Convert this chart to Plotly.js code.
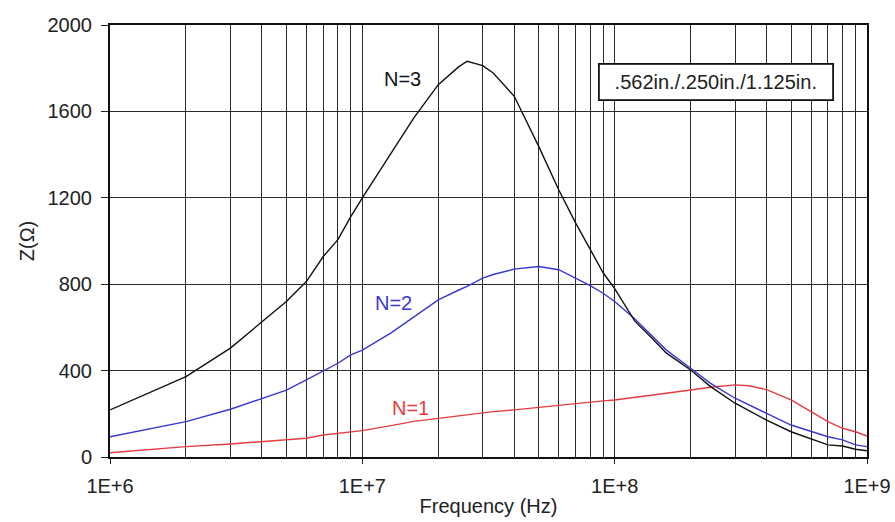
<!DOCTYPE html>
<html>
<head>
<meta charset="utf-8">
<script src="https://cdn.plot.ly/plotly-3.0.1.min.js"></script>
<style>html,body{margin:0;padding:0;background:#fff;}#chart{width:895px;height:522px;}</style>
</head>
<body>
<div id="chart"></div>
<script>
// Frequencies (Hz)
const freq = [1e6,2e6,3e6,4e6,5e6,6e6,7e6,8e6,9e6,1e7,1.3e7,1.6e7,2e7,2.4e7,2.6e7,3e7,3.3e7,4e7,5e7,6e7,7e7,8e7,9e7,1e8,1.2e8,1.4e8,1.6e8,2e8,2.4e8,3e8,3.4e8,4e8,5e8,6e8,7e8,8e8,9e8,1e9];
// Impedance Z (ohm)
const zN1 = [20,48,60,71,79,87,102,110,117,122,145,165,179,190,195,205,210,218,230,240,248,256,260,264,275,285,295,310,323,334,330,312,264,210,164,133,117,97];
const zN2 = [94,164,221,272,310,357,400,434,473,495,575,650,727,772,790,828,845,870,882,867,828,793,758,720,640,562,496,411,341,272,240,202,148,117,94,79,56,48];
const zN3 = [218,372,504,627,720,812,928,1006,1113,1200,1410,1570,1724,1805,1832,1812,1778,1670,1438,1237,1084,959,853,780,630,552,482,403,326,249,215,171,117,82,56,51,36,29];

const seriesNames = ['N=1','N=2','N=3'];
const xTickVals = [1e6,1e7,1e8,1e9];
const xTickText = ['1E+6','1E+7','1E+8','1E+9'];
const yTickVals = [0,400,800,1200,1600,2000];
const boxLabel = '.562in./.250in./1.125in.';

const colors = ['#e63c40','#3838d0','#111111'];

// minor grid positions 2..9 per decade
const minorVals = [];
for (let d = 6; d < 9; d++) for (let k = 2; k <= 9; k++) minorVals.push(k * Math.pow(10, d));

const traces = [zN1, zN2, zN3].map((z, i) => ({
  x: freq, y: z, type: 'scatter', mode: 'lines', name: seriesNames[i],
  line: {color: colors[i], width: 1.4}
}));

const fam = '"Liberation Sans", Arial, sans-serif';
const font = {family: fam, size: 20, color: '#222'};
const gridCol = '#2a2a2a';

const layout = {
  width: 895, height: 522,
  margin: {l: 110, r: 28, t: 25, b: 65},
  paper_bgcolor: '#fff', plot_bgcolor: '#fff',
  showlegend: false,
  font: font,
  xaxis: {
    type: 'log', range: [6, 9],
    tickmode: 'array', tickvals: xTickVals, ticktext: xTickText,
    ticks: 'outside', ticklen: 5, tickcolor: '#222', tickwidth: 1,
    ticklabelstandoff: 5,
    showgrid: true, gridcolor: gridCol, gridwidth: 1,
    minor: {tickmode: 'array', tickvals: minorVals, showgrid: true, gridcolor: gridCol, gridwidth: 1, ticks: ''},
    showline: true, linecolor: '#111', linewidth: 2, mirror: true,
    zeroline: false,
    title: {text: 'Frequency (Hz)', font: font, standoff: 3},
    tickfont: font, automargin: false
  },
  yaxis: {
    range: [0, 2000],
    tickmode: 'array', tickvals: yTickVals,
    ticks: 'outside', ticklen: 7, tickcolor: '#222',
    ticklabelstandoff: 5,
    showgrid: true, gridcolor: gridCol, gridwidth: 1,
    showline: true, linecolor: '#111', linewidth: 2, mirror: true,
    zeroline: false,
    title: {text: 'Z(Ω)', font: font, standoff: 8},
    tickfont: font, automargin: false
  },
  annotations: [
    {x: 7.161, y: 1752, xref: 'x', yref: 'y', text: seriesNames[2], showarrow: false, font: {family: fam, size: 20, color: colors[2]}},
    {x: 7.122, y: 714, xref: 'x', yref: 'y', text: seriesNames[1], showarrow: false, font: {family: fam, size: 20, color: colors[1]}},
    {x: 7.189, y: 227, xref: 'x', yref: 'y', text: seriesNames[0], showarrow: false, font: {family: fam, size: 20, color: colors[0]}},
    {x: 0.8005, y: 0.868, xref: 'paper', yref: 'paper', xanchor: 'center', yanchor: 'middle',
     text: boxLabel, showarrow: false,
     font: {family: fam, size: 20, color: '#222'}, width: 226, height: 28,
     bordercolor: '#111', borderwidth: 1.8, borderpad: 3, bgcolor: '#fff'}
  ]
};

Plotly.newPlot('chart', traces, layout, {displayModeBar: false, staticPlot: true});
</script>
</body>
</html>
